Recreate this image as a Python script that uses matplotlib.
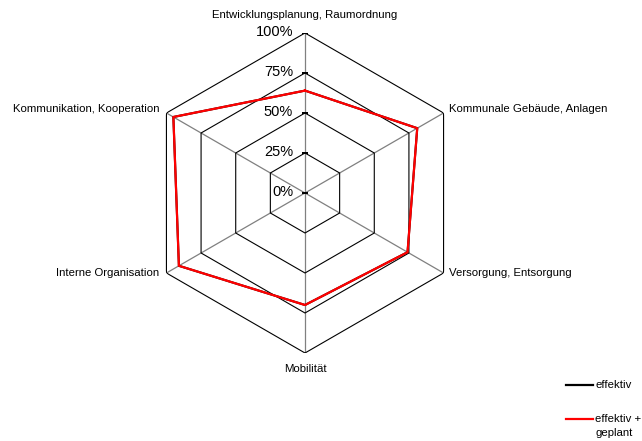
import numpy as np
import matplotlib
matplotlib.use('Agg')
from matplotlib import pyplot as plt
from matplotlib.lines import Line2D

plt.rcParams['font.family'] = ['Liberation Sans', 'DejaVu Sans']

# categories, clockwise from top
categories = [
    'Entwicklungsplanung, Raumordnung',
    'Kommunale Gebäude, Anlagen',
    'Versorgung, Entsorgung',
    'Mobilität',
    'Interne Organisation',
    'Kommunikation, Kooperation',
]
effektiv = [64, 81, 74, 70, 91, 95]
effektiv_geplant = [64, 81, 74, 70, 91, 95]
r_ticks = [0, 25, 50, 75, 100]
r_labels = ['0%', '25%', '50%', '75%', '100%']
series_labels = ['effektiv', 'effektiv +\ngeplant']

n = len(categories)
angles = np.deg2rad(np.arange(n) * 360.0 / n)
closed = np.append(angles, angles[0])

fig = plt.figure(figsize=(6.42, 4.41), dpi=100)
ax = fig.add_axes([145 / 642, 88 / 441, 320 / 642, 320 / 441], projection='polar')
ax.set_theta_zero_location('N')
ax.set_theta_direction(-1)
ax.set_ylim(0, 100)
ax.grid(False)
ax.spines['polar'].set_visible(False)
ax.set_xticks([])
ax.set_yticks([])
ax.patch.set_visible(False)

# spokes
for a in angles:
    ax.plot([a, a], [0, 100], color='#808080', lw=0.9, zorder=1)

# hexagonal rings
for r in r_ticks[1:]:
    ax.plot(closed, [r] * (n + 1), color='black', lw=0.8, zorder=2)

# value axis ticks + labels
ax.plot([0] * len(r_ticks), r_ticks, ls='none', marker='_', ms=4, mew=1.2,
        color='black', zorder=3)
for r, lab in zip(r_ticks, r_labels):
    ax.annotate(lab, xy=(0, r), xytext=(-8.5, 1), textcoords='offset points',
                ha='right', va='center', fontsize=10.5)

# series
ax.plot(closed, effektiv + effektiv[:1], color='black', lw=1.5, zorder=4)
ax.plot(closed, effektiv_geplant + effektiv_geplant[:1], color='#ff0000',
        lw=1.6, zorder=5)

# category labels
label_pos = [
    ((0, 9), 'center', 'bottom'),
    ((4, 3), 'left', 'center'),
    ((4, 0), 'left', 'center'),
    ((0, -8), 'center', 'top'),
    ((-5, 0), 'right', 'center'),
    ((-5, 3), 'right', 'center'),
]
for a, cat, (off, ha, va) in zip(angles, categories, label_pos):
    ax.annotate(cat, xy=(a, 100), xytext=off, textcoords='offset points',
                ha=ha, va=va, fontsize=8.2, annotation_clip=False)

# legend, drawn by hand so the red line sits on the first text line
legend_colors = ['black', '#ff0000']
legend_rows = [1 - 385 / 441, 1 - 419 / 441]
for col, y, lab in zip(legend_colors, legend_rows, series_labels):
    fig.add_artist(Line2D([566 / 642, 593 / 642], [y, y], color=col, lw=1.6,
                          transform=fig.transFigure))
    fig.text(595 / 642, y + 4.5 / 441, lab, ha='left', va='top', fontsize=8.2,
             linespacing=1.45)

fig.savefig('out.png', dpi=100)
